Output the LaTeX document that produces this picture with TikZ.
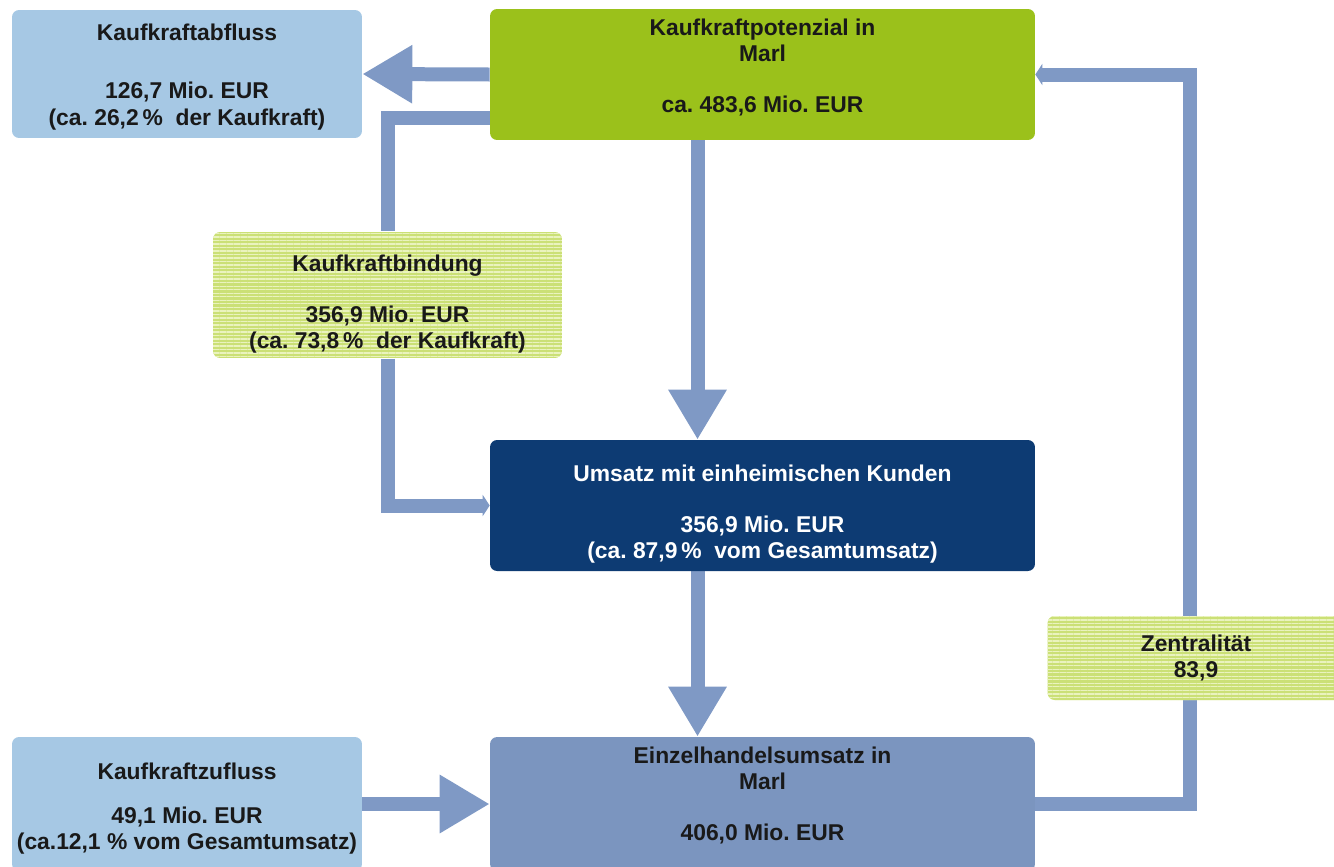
\documentclass[tikz,border=0pt]{standalone}
\usepackage{fontspec}
\setmainfont{Liberation Sans}
\usetikzlibrary{arrows.meta, patterns.meta, backgrounds}
\definecolor{abflussblue}{RGB}{166,200,228}
\definecolor{potgreen}{RGB}{155,193,27}
\definecolor{stripegreen}{RGB}{203,224,118}
\definecolor{stripelight}{RGB}{234,243,190}
\definecolor{umsatzblue}{RGB}{13,59,115}
\definecolor{einzelblue}{RGB}{123,149,191}
\definecolor{flowblue}{RGB}{127,153,197}

\begin{document}
\begin{tikzpicture}[x=0.02cm, y=-0.02cm]

    \tikzstyle{box} = [rectangle, rounded corners=4pt, inner sep=0pt, align=center, text=black!90, font=\fontsize{13}{15}\selectfont\bfseries]
    \tikzstyle{sidebox} = [box, fill=abflussblue, minimum width=7cm]
    \tikzstyle{mainbox} = [box, minimum width=10.9cm]
    \tikzstyle{stripebox} = [box, preaction={fill=stripegreen}, pattern={Lines[angle=0, distance=2pt, line width=0.8pt]}, pattern color=stripelight]
    \tikzstyle{flow} = [line width=0.28cm, draw=flowblue]
    \tikzstyle{bigarrow} = [flow, -{Triangle[width=1.1cm, length=1cm]}]
    \tikzstyle{tiparrow} = [flow, -{Triangle[width=0.42cm, length=0.14cm]}]

    \useasboundingbox (0,0) rectangle (1334,866);

    % Nodes
    \node (abfluss) [sidebox, minimum height=2.56cm] at (187,74) {\rule{0pt}{13pt}Kaufkraftabfluss\\[18pt]126,7 Mio.\ EUR\\(ca.\ 26,2\,\% \ der Kaufkraft)};
    \node (pot) [mainbox, fill=potgreen, minimum height=2.62cm] at (762.5,74.5) {Kaufkraftpotenzial in\\Marl\\[14pt]ca.\ 483,6 Mio.\ EUR\rule[-10pt]{0pt}{10pt}};
    \node (bind) [stripebox, minimum width=6.98cm, minimum height=2.52cm] at (387.5,295) {\rule{0pt}{19.5pt}Kaufkraftbindung\\[14pt]356,9 Mio.\ EUR\\(ca.\ 73,8\,\% \ der Kaufkraft)};
    \node (umsatz) [mainbox, fill=umsatzblue, text=white, minimum height=2.62cm] at (762.5,505.5) {\rule{0pt}{19.5pt}Umsatz mit einheimischen Kunden\\[14pt]356,9 Mio.\ EUR\\(ca.\ 87,9\,\% \ vom Gesamtumsatz)};
    \node (zent) [stripebox, minimum width=5.94cm, minimum height=1.68cm] at (1196,658) {Zentralität\\83,9};
    \node (zufluss) [sidebox, minimum height=2.68cm] at (187,804) {\rule{0pt}{15pt}Kaufkraftzufluss\\[10pt]49,1 Mio.\ EUR\\(ca.12,1 \% vom Gesamtumsatz)};
    \node (einzel) [mainbox, fill=einzelblue, minimum height=2.68cm] at (762.5,804) {Einzelhandelsumsatz in\\Marl\\[14pt]406,0 Mio.\ EUR\rule[-12pt]{0pt}{12pt}};

    % Arrows
    \begin{scope}[on background layer]
    \draw [bigarrow] (pot.west) -- (abfluss.east);
    \draw [flow] ([yshift=-0.88cm]pot.west) -| (bind.north);
    \draw [tiparrow] (bind.south) |- (umsatz.west);
    \draw [bigarrow] ([xshift=-1.3cm]pot.south) -- ([xshift=-1.3cm]umsatz.north);
    \draw [bigarrow] ([xshift=-1.3cm]umsatz.south) -- ([xshift=-1.3cm]einzel.north);
    \draw [bigarrow] (zufluss.east) -- (einzel.west);
    \draw [tiparrow] (einzel.east) -| ([xshift=-0.12cm]zent.center) |- (pot.east);
    \end{scope}

\end{tikzpicture}
\end{document}
